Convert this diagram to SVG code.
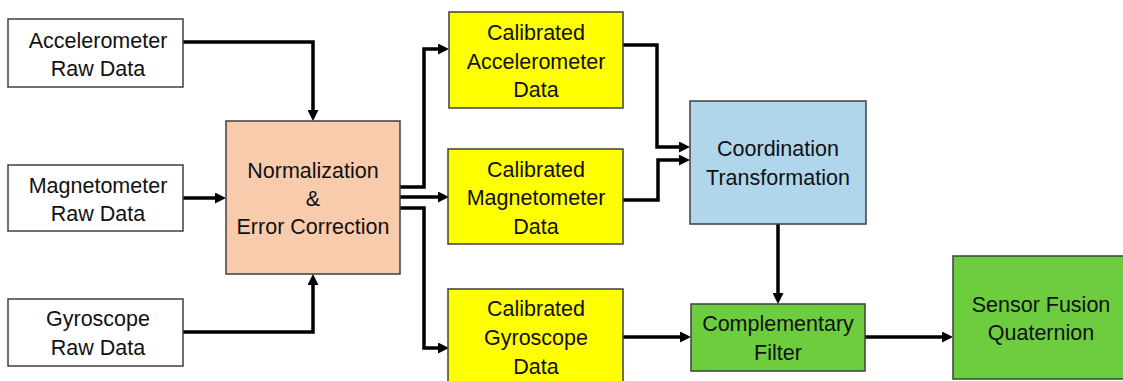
<svg xmlns="http://www.w3.org/2000/svg" width="1123" height="381" viewBox="0 0 1123 381">
  <style>
    .box { stroke: #3f3f3f; stroke-width: 1.5; }
    .raw { fill: #ffffff; }
    .norm { fill: #f8cbad; }
    .cal { fill: #ffff00; }
    .coord { fill: #b0d6ec; }
    .fuse { fill: #6dcd3f; }
    .lbl { font-family: "Liberation Sans", Arial, sans-serif; font-size: 21.5px; fill: #111111; text-anchor: middle; }
    .wire { fill: none; stroke: #000000; stroke-width: 3.5; stroke-linejoin: miter; }
  </style>
  <defs>
    <marker id="arrow" markerUnits="userSpaceOnUse" markerWidth="11" markerHeight="11" refX="3" refY="5.5" orient="auto">
      <path d="M0,0 L11,5.5 L0,11 Z" fill="#000000"/>
    </marker>
  </defs>

  <rect width="1123" height="381" fill="#ffffff"/>

  <!-- connectors -->
  <g id="connectors" class="wire" marker-end="url(#arrow)">
    <path d="M183,42 H313 V113"/>
    <path d="M183,198 H218"/>
    <path d="M183,332 H313 V282"/>
    <path d="M400,187 H424 V49 H441"/>
    <path d="M400,197 H441"/>
    <path d="M400,208 H424 V348 H441"/>
    <path d="M623,45 H657 V147 H682"/>
    <path d="M623,200 H658 V160 H682"/>
    <path d="M778,224 V296"/>
    <path d="M623,337 H683"/>
    <path d="M865,337 H945"/>
  </g>

  <!-- raw sensor inputs -->
  <g id="acc-raw">
    <rect class="box raw" x="8" y="19" width="175" height="68"/>
    <text class="lbl" x="98" y="48">Accelerometer</text>
    <text class="lbl" x="98" y="76">Raw Data</text>
  </g>
  <g id="mag-raw">
    <rect class="box raw" x="8" y="165" width="175" height="66"/>
    <text class="lbl" x="98" y="193">Magnetometer</text>
    <text class="lbl" x="98" y="221">Raw Data</text>
  </g>
  <g id="gyro-raw">
    <rect class="box raw" x="8" y="299" width="175" height="67"/>
    <text class="lbl" x="98" y="326">Gyroscope</text>
    <text class="lbl" x="98" y="355">Raw Data</text>
  </g>

  <!-- normalization stage -->
  <g id="normalization">
    <rect class="box norm" x="226" y="121" width="174" height="153"/>
    <text class="lbl" x="313" y="178">Normalization</text>
    <text class="lbl" x="313" y="206">&amp;</text>
    <text class="lbl" x="313" y="234">Error Correction</text>
  </g>

  <!-- calibrated data -->
  <g id="acc-cal">
    <rect class="box cal" x="449" y="12" width="174" height="96"/>
    <text class="lbl" x="536" y="40">Calibrated</text>
    <text class="lbl" x="536" y="69">Accelerometer</text>
    <text class="lbl" x="536" y="97">Data</text>
  </g>
  <g id="mag-cal">
    <rect class="box cal" x="448" y="149" width="175" height="95"/>
    <text class="lbl" x="536" y="177">Calibrated</text>
    <text class="lbl" x="536" y="205">Magnetometer</text>
    <text class="lbl" x="536" y="234">Data</text>
  </g>
  <g id="gyro-cal">
    <rect class="box cal" x="448" y="289" width="175" height="96"/>
    <text class="lbl" x="536" y="316">Calibrated</text>
    <text class="lbl" x="536" y="345">Gyroscope</text>
    <text class="lbl" x="536" y="374">Data</text>
  </g>

  <!-- processing -->
  <g id="coordination">
    <rect class="box coord" x="690" y="101" width="176" height="123"/>
    <text class="lbl" x="778" y="156">Coordination</text>
    <text class="lbl" x="778" y="185">Transformation</text>
  </g>
  <g id="complementary">
    <rect class="box fuse" x="691" y="304" width="174" height="67"/>
    <text class="lbl" x="778" y="331">Complementary</text>
    <text class="lbl" x="778" y="360">Filter</text>
  </g>
  <g id="quaternion">
    <rect class="box fuse" x="953" y="256" width="178" height="123"/>
    <text class="lbl" x="1041" y="312">Sensor Fusion</text>
    <text class="lbl" x="1041" y="340">Quaternion</text>
  </g>
</svg>
